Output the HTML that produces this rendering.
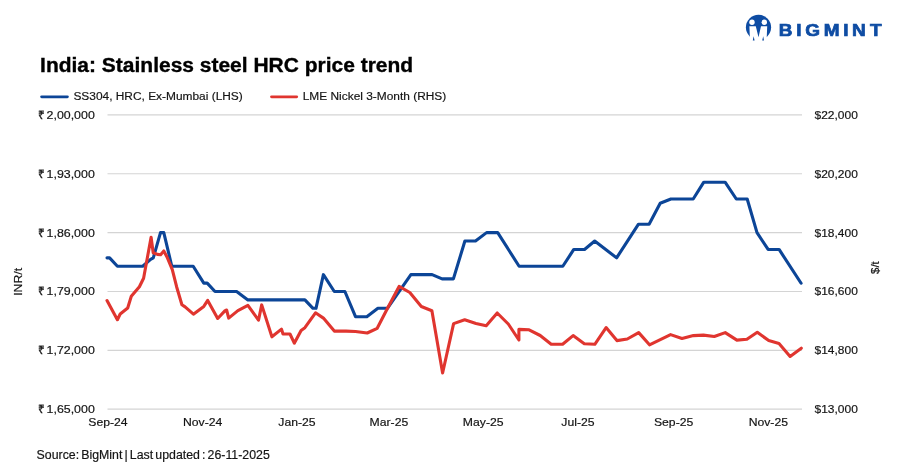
<!DOCTYPE html>
<html><head><meta charset="utf-8"><title>India: Stainless steel HRC price trend</title>
<style>
html,body{margin:0;padding:0;background:#fff;}
body{width:897px;height:470px;overflow:hidden;position:relative;font-family:"Liberation Sans",Arial,sans-serif;}
svg{position:absolute;left:0;top:0;display:block}
text{font-family:"Liberation Sans",Arial,sans-serif;fill:#141414;stroke:#141414;stroke-width:0.18px}
</style></head><body>
<svg width="897" height="470" viewBox="0 0 897 470">
<rect width="897" height="470" fill="#fff"/>
<text x="40.1" y="71.6" font-size="20.3" font-weight="700" style="fill:#000;stroke:#000;stroke-width:0.35px" textLength="373" lengthAdjust="spacingAndGlyphs">India: Stainless steel HRC price trend</text>
<line x1="41.6" y1="96.8" x2="67.4" y2="96.8" stroke="#0c4597" stroke-width="2.8" stroke-linecap="round"/>
<text x="73.4" y="100.3" font-size="11.7" textLength="169.4" lengthAdjust="spacingAndGlyphs">SS304, HRC, Ex-Mumbai (LHS)</text>
<line x1="271.5" y1="96.8" x2="296.7" y2="96.8" stroke="#e0352f" stroke-width="2.8" stroke-linecap="round"/>
<text x="302.7" y="100.3" font-size="11.7" textLength="143.6" lengthAdjust="spacingAndGlyphs">LME Nickel 3-Month (RHS)</text>
<line x1="107.5" y1="114.9" x2="802" y2="114.9" stroke="#d4d4d4" stroke-width="1.2"/>
<line x1="107.5" y1="173.76" x2="802" y2="173.76" stroke="#d4d4d4" stroke-width="1.2"/>
<line x1="107.5" y1="232.62" x2="802" y2="232.62" stroke="#d4d4d4" stroke-width="1.2"/>
<line x1="107.5" y1="291.48" x2="802" y2="291.48" stroke="#d4d4d4" stroke-width="1.2"/>
<line x1="107.5" y1="350.34" x2="802" y2="350.34" stroke="#d4d4d4" stroke-width="1.2"/>
<line x1="107.5" y1="409.2" x2="802" y2="409.2" stroke="#d4d4d4" stroke-width="1.2"/>
<text x="38.0" y="118.85" font-size="11.4" style="stroke-width:0.35px" textLength="7.2" lengthAdjust="spacingAndGlyphs">₹</text><text x="46.6" y="118.85" font-size="11.2" textLength="48.2" lengthAdjust="spacingAndGlyphs">2,00,000</text>
<text x="38.0" y="177.71" font-size="11.4" style="stroke-width:0.35px" textLength="7.2" lengthAdjust="spacingAndGlyphs">₹</text><text x="46.6" y="177.71" font-size="11.2" textLength="48.2" lengthAdjust="spacingAndGlyphs">1,93,000</text>
<text x="38.0" y="236.57" font-size="11.4" style="stroke-width:0.35px" textLength="7.2" lengthAdjust="spacingAndGlyphs">₹</text><text x="46.6" y="236.57" font-size="11.2" textLength="48.2" lengthAdjust="spacingAndGlyphs">1,86,000</text>
<text x="38.0" y="295.43" font-size="11.4" style="stroke-width:0.35px" textLength="7.2" lengthAdjust="spacingAndGlyphs">₹</text><text x="46.6" y="295.43" font-size="11.2" textLength="48.2" lengthAdjust="spacingAndGlyphs">1,79,000</text>
<text x="38.0" y="354.29" font-size="11.4" style="stroke-width:0.35px" textLength="7.2" lengthAdjust="spacingAndGlyphs">₹</text><text x="46.6" y="354.29" font-size="11.2" textLength="48.2" lengthAdjust="spacingAndGlyphs">1,72,000</text>
<text x="38.0" y="413.15" font-size="11.4" style="stroke-width:0.35px" textLength="7.2" lengthAdjust="spacingAndGlyphs">₹</text><text x="46.6" y="413.15" font-size="11.2" textLength="48.2" lengthAdjust="spacingAndGlyphs">1,65,000</text>
<text x="814.5" y="118.85" font-size="11.2" textLength="43.3" lengthAdjust="spacingAndGlyphs">$22,000</text>
<text x="814.5" y="177.71" font-size="11.2" textLength="43.3" lengthAdjust="spacingAndGlyphs">$20,200</text>
<text x="814.5" y="236.57" font-size="11.2" textLength="43.3" lengthAdjust="spacingAndGlyphs">$18,400</text>
<text x="814.5" y="295.43" font-size="11.2" textLength="43.3" lengthAdjust="spacingAndGlyphs">$16,600</text>
<text x="814.5" y="354.29" font-size="11.2" textLength="43.3" lengthAdjust="spacingAndGlyphs">$14,800</text>
<text x="814.5" y="413.15" font-size="11.2" textLength="43.3" lengthAdjust="spacingAndGlyphs">$13,000</text>
<text transform="translate(107.9,426.2) scale(1.08,1)" font-size="11.3" text-anchor="middle">Sep-24</text>
<text transform="translate(202.6,426.2) scale(1.08,1)" font-size="11.3" text-anchor="middle">Nov-24</text>
<text transform="translate(297.0,426.2) scale(1.08,1)" font-size="11.3" text-anchor="middle">Jan-25</text>
<text transform="translate(388.9,426.2) scale(1.08,1)" font-size="11.3" text-anchor="middle">Mar-25</text>
<text transform="translate(483.2,426.2) scale(1.08,1)" font-size="11.3" text-anchor="middle">May-25</text>
<text transform="translate(577.9,426.2) scale(1.08,1)" font-size="11.3" text-anchor="middle">Jul-25</text>
<text transform="translate(673.6,426.2) scale(1.08,1)" font-size="11.3" text-anchor="middle">Sep-25</text>
<text transform="translate(768.3,426.2) scale(1.08,1)" font-size="11.3" text-anchor="middle">Nov-25</text>
<text transform="translate(22.2,281.8) rotate(-90)" font-size="11.6" text-anchor="middle" textLength="28" lengthAdjust="spacingAndGlyphs">INR/t</text>
<text transform="translate(879.4,267.6) rotate(-90)" font-size="11.4" text-anchor="middle">$/t</text>
<text x="36.6" y="458.7" font-size="12.2" style="word-spacing:-1.3px" textLength="233.2" lengthAdjust="spacingAndGlyphs">Source: BigMint | Last updated : 26-11-2025</text>
<polyline points="107,257.86 109.6,257.86 117.4,266.26 142.7,266.26 150.6,259.31 153.3,257.86 160.5,232.63 163.8,232.63 171.8,266.26 193.2,266.26 203.8,283.08 207.2,283.08 215,291.49 236.6,291.49 247.9,299.9 304.9,299.9 313,308.3 316,308.3 323.4,274.67 334.3,291.49 344.9,291.49 355.5,316.71 366.8,316.71 377.9,308.3 387.4,308.3 410.9,274.67 432.1,274.67 442.1,278.88 453.4,278.88 464.9,241.04 475.5,241.04 486.6,232.63 497.7,232.63 519.1,266.26 562.8,266.26 573.8,249.45 584.5,249.45 594.7,241.04 616.6,257.86 638.5,224.22 649.1,224.22 660.2,203.2 670.9,199 693.2,199 703.8,182.18 725.1,182.18 736.3,199 747.2,199 757,232.63 768.1,249.45 779.1,249.45 801.1,283.23" fill="none" stroke="#0c4597" stroke-width="3.1" stroke-linejoin="round" stroke-linecap="round"/>
<polyline points="107,300.5 117.4,319.7 120.2,314 127.7,308 131.3,296.3 139.4,286.7 143.6,278.2 151.1,237.3 153.2,252.7 157.4,254.4 160.6,254.8 163.8,251 167,257 172.3,269.7 176.6,286.7 181.9,304.8 185.1,306.9 193.4,314.2 203.8,306.4 207.7,300.4 217.7,318.5 225.1,310.6 226.6,310 228.7,318.1 237.9,310.6 247.9,305.3 258.5,320.2 261.7,304.9 271.9,336.8 281.5,329.1 283,334 290,334 294.3,343.2 301.1,330.4 304.9,327.7 315.5,312.8 323.4,318.1 334.3,331.1 346,331.1 355.5,331.5 367.2,333 377.2,328.3 387.4,308.5 399.1,286.4 409.8,292.5 421.3,306.5 431.9,310.8 442.6,373 453.6,323.6 464.7,319.8 476,323.4 486.2,325.7 497.2,313 508.3,324 518.9,340 518.9,329.4 529.1,329.8 540.2,335.5 551.2,344.3 562.6,344.3 573.1,335.6 584.3,343.8 594.8,344.3 606.1,327.6 616.9,340.6 627.3,339 638.7,332.6 649.5,344.8 670.6,334.6 682,338.5 693.4,335.6 703.4,335.1 714.3,336.5 725.2,332.6 736.9,340.1 746.9,339.3 757.3,332.3 768.7,340.6 779,343.5 790.1,356.4 801.3,348.2" fill="none" stroke="#e0352f" stroke-width="3.1" stroke-linejoin="round" stroke-linecap="round"/>
<g>
<circle cx="758.5" cy="27.3" r="12.6" fill="#0e4ca3"/>
<circle cx="752" cy="22.3" r="2.7" fill="#fff"/>
<circle cx="764.3" cy="22.3" r="2.7" fill="#fff"/>
<path d="M749.4 26.2 L755.8 26.2 L758.5 37.3 L761 26.2 L767.2 26.2 L766.6 41 L750 41 Z" fill="#fff"/>
<path d="M752.8 40.5 L753.6 36.3 L754.6 40.5 Z M762.2 40.5 L763.2 36.3 L764 40.5 Z" fill="#0e4ca3"/>
<text transform="scale(1.13,1)" x="689.08 704.58 712.68 728.99 746.18 754.04 769.96" y="36.4" font-size="16.8" font-weight="700" style="fill:#0e4ca3;stroke:#0e4ca3;stroke-width:0.7px">BIGMINT</text>
</g>
</svg></body></html>
